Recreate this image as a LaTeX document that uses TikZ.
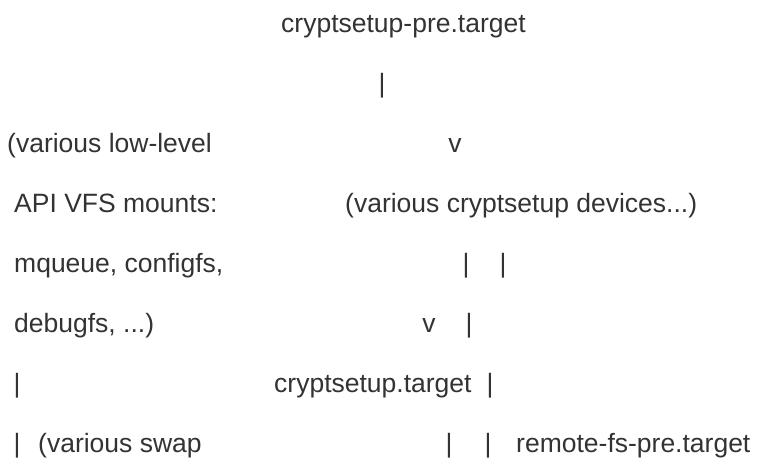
\documentclass[tikz,border=0pt]{standalone}
\usepackage{fontspec}
\setmainfont{Liberation Sans}
\usetikzlibrary{positioning}
\definecolor{asciigray}{HTML}{333333}

\begin{document}
\begin{tikzpicture}[x=1pt, y=-1pt,
    every node/.style={inner sep=0pt, text=asciigray, font=\fontsize{26.5pt}{30pt}\selectfont},
    txt/.style={anchor=base west},
    glyph/.style={anchor=base}]

  \useasboundingbox (0,0) rectangle (757,459);

  % ---- Top: cryptsetup-pre ----
  \node[txt] (pre) at (281,32) {cryptsetup-pre.target};
  \node[glyph] (preBar) at (382,92) {|};
  \node[glyph] (preArr) at (455,152) {v};

  % ---- Left column: API VFS mounts ----
  \node[txt] (vfsA) at (7,152) {(various low-level};
  \node[txt] (vfsB) at (14,212) {API VFS mounts:};
  \node[txt] (vfsC) at (14,272) {mqueue, configfs,};
  \node[txt] (vfsD) at (14,332) {debugfs, ...)};
  \node[glyph] (vfsBar1) at (17,392) {|};
  \node[glyph] (vfsBar2) at (17,452) {|};
  \node[txt] (swap) at (38,452) {(various swap};

  % ---- Middle: cryptsetup devices ----
  \node[txt] (devs) at (345,212) {(various cryptsetup devices...)};
  \node[glyph] (devBarL) at (466,272) {|};
  \node[glyph] (devBarR) at (503,272) {|};
  \node[glyph] (devArr) at (429,332) {v};
  \node[glyph] (devBarR2) at (469,332) {|};
  \node[txt] (cst) at (274,392) {cryptsetup.target};
  \node[glyph] (cstBar) at (490,392) {|};
  \node[glyph] (cstBarL) at (449,452) {|};
  \node[glyph] (cstBarR) at (488,452) {|};

  % ---- Right: remote-fs-pre ----
  \node[txt] (rfsPre) at (516,452) {remote-fs-pre.target};

\end{tikzpicture}
\end{document}
